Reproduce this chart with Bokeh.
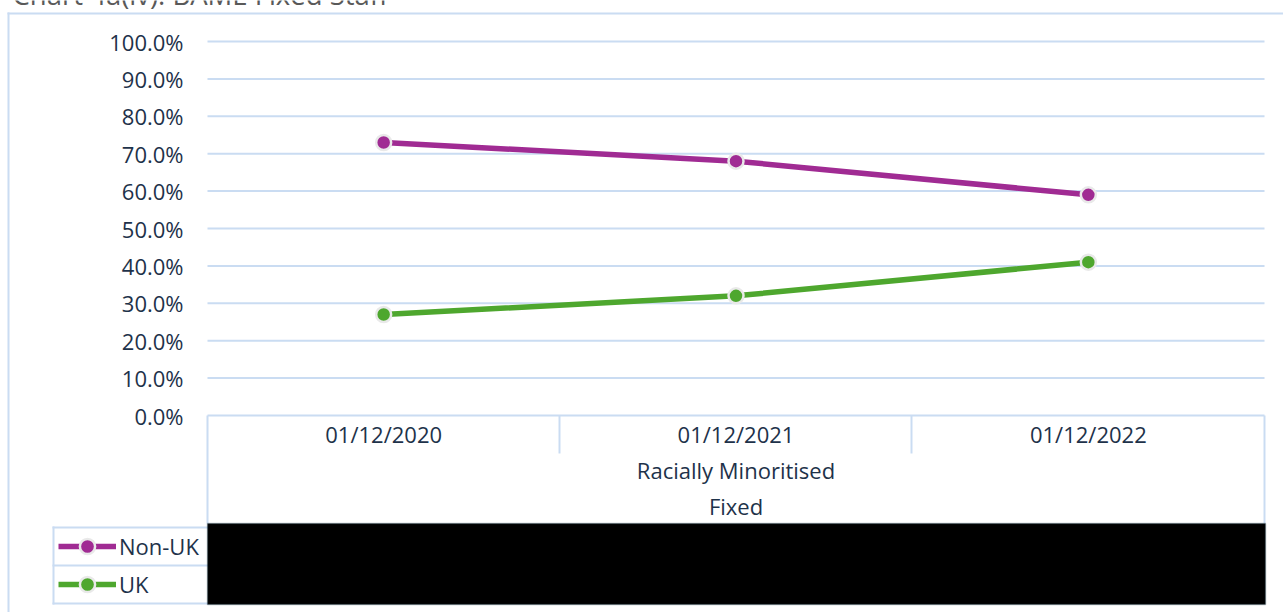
from bokeh.plotting import figure
from bokeh.models import (Range1d, BoxAnnotation, Label, Legend, LegendItem,
                          ColumnDataSource)
from bokeh.core.properties import value
from bokeh.embed import file_html
from bokeh.resources import INLINE

# ---- data ----
title_text = "Chart 4a(iv): BAME Fixed Staff"
contract = "Fixed"
ethnicity = "Racially Minoritised"
dates = ["01/12/2020", "01/12/2021", "01/12/2022"]
non_uk = [0.73, 0.68, 0.59]
uk = [0.27, 0.32, 0.41]
y_ticks = [0.0, 0.1, 0.2, 0.3, 0.4, 0.5, 0.6, 0.7, 0.8, 0.9, 1.0]
y_tick_labels = ["0.0%", "10.0%", "20.0%", "30.0%", "40.0%", "50.0%",
                 "60.0%", "70.0%", "80.0%", "90.0%", "100.0%"]

# ---- style ----
PURPLE = "#a02b93"
GREEN = "#4ea72e"
TEXT = "#1e324a"
GRID = "#cadcf2"
FONT = "Open Sans"
W, H = 1283, 612

# plot area inside the canvas (pixels)
PL, PR, PT, PB = 207, 1264, 41, 415
n = len(dates)
px_per_cat = (PR - PL) / n
px_per_unit = PB - PT

# the whole canvas is the frame; ranges are set so the plot area lands at PL..PR / PT..PB
x_range = Range1d(-PL / px_per_cat, n + (W - PR) / px_per_cat)
y_range = Range1d(-(H - PB) / px_per_unit, 1 + PT / px_per_unit)

p = figure(width=W, height=H, x_range=x_range, y_range=y_range,
           output_backend="svg", toolbar_location=None, min_border=0)
p.xaxis.visible = False
p.yaxis.visible = False
p.grid.visible = False
p.outline_line_color = None
p.background_fill_color = "white"
p.border_fill_color = "white"

xpos = [i + 0.5 for i in range(n)]

# horizontal gridlines over the plot area
p.segment(x0=0, x1=n, y0=y_ticks, y1=y_ticks, line_color=GRID, line_width=2)

# value axis labels
p.text(x=0, y=y_ticks, text=y_tick_labels, x_offset=-24,
       text_align="right", text_baseline="middle", text_font=value(FONT),
       text_font_size="22px", text_color=TEXT)

# category labels (three levels)
p.text(x=xpos, y=0, text=dates, y_offset=18, text_align="center",
       text_baseline="middle", text_font=value(FONT), text_font_size="22px",
       text_color=TEXT)
p.text(x=[n / 2], y=0, text=[ethnicity], y_offset=54, text_align="center",
       text_baseline="middle", text_font=value(FONT), text_font_size="22px",
       text_color=TEXT)
p.text(x=[n / 2], y=0, text=[contract], y_offset=90, text_align="center",
       text_baseline="middle", text_font=value(FONT), text_font_size="22px",
       text_color=TEXT)

src = ColumnDataSource(dict(x=xpos, non_uk=non_uk, uk=uk))

r1 = p.line("x", "non_uk", source=src, line_color=PURPLE, line_width=5.5)
s1 = p.scatter("x", "non_uk", source=src, size=15, fill_color=PURPLE,
               line_color="#e9e9e9", line_width=2.5)
r2 = p.line("x", "uk", source=src, line_color=GREEN, line_width=5.5)
s2 = p.scatter("x", "uk", source=src, size=15, fill_color=GREEN,
               line_color="#e9e9e9", line_width=2.5)


def rule(left, right, top, bottom, color=GRID):
    p.add_layout(BoxAnnotation(left=left, right=right, top=top, bottom=bottom,
                               left_units="canvas", right_units="canvas",
                               top_units="canvas", bottom_units="canvas",
                               fill_color=color, fill_alpha=1.0,
                               line_color=None))


# chart area border
rule(7, W, 12, 14)
rule(7, 9, 12, H)
# category table lines
rule(PL - 1, PL + 1, PB, 523)
rule(PR - 1, PR + 1, PB, 523)
rule(558, 560, PB, 453)
rule(910, 912, PB, 453)
# legend box
rule(52, PL + 1, 526, 528)
rule(52, PL + 1, 564, 566)
rule(52, PL + 1, 602, 604)
rule(52, 54, 526, 604)

# masked data table block
p.add_layout(BoxAnnotation(left=PL, right=PR + 1, top=523, bottom=604,
                           left_units="canvas", right_units="canvas",
                           top_units="canvas", bottom_units="canvas",
                           fill_color="black", fill_alpha=1.0,
                           line_color="#16394a", line_width=1.5))

legend = Legend(items=[LegendItem(label="Non-UK", renderers=[r1, s1]),
                       LegendItem(label="UK", renderers=[r2, s2])],
                location=(58, H - 603),
                glyph_width=58, glyph_height=38, label_height=38,
                label_standoff=3, padding=0, spacing=0, margin=0,
                border_line_alpha=0, background_fill_alpha=0,
                label_text_font=FONT, label_text_font_size="22px",
                label_text_color=TEXT)
p.add_layout(legend)

# chart title, running off the top edge of the page
p.add_layout(Label(x=12, y=-6, x_units="canvas", y_units="canvas",
                   text=title_text, text_font=FONT, text_font_size="27.5px",
                   text_color="#595959", text_baseline="alphabetic"))

open("out.html", "w").write(file_html(p, INLINE))
